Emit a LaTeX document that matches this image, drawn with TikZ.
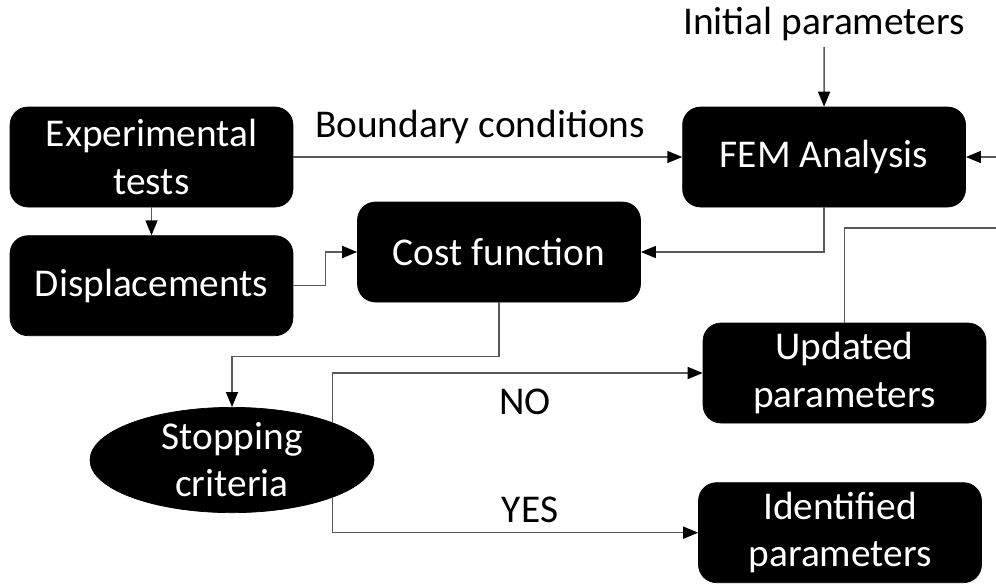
\documentclass[tikz,border=0pt]{standalone}
\usepackage{fontspec}
\setmainfont{Carlito}
\usepackage{tikz}
\usetikzlibrary{shapes.geometric,arrows.meta,positioning,calc}

\begin{document}
\begin{tikzpicture}[
        x=0.02cm, y=-0.02cm,
        node distance=0.56cm,
        box/.style={rectangle, rounded corners=0.36cm, draw=black, fill=black, text=white,
            minimum width=5.66cm,
            minimum height=2.0cm, inner sep=0pt,
            align=center, font=\fontsize{22.4}{26.8}\selectfont},
        oval/.style={ellipse, draw=black, fill=black, text=white,
            minimum width=5.68cm,
            minimum height=2.06cm, inner sep=0pt,
            align=center, font=\fontsize{22.4}{26.8}\selectfont},
        lbl/.style={font=\fontsize{22.4}{26.8}\selectfont},
        line/.style={draw=black!65, line width=0.03cm},
        arr/.style={line, -{Triangle[length=0.3cm, width=0.24cm, color=black]}}
    ]
        \useasboundingbox (0,0) rectangle (996,583);
        \node[box] (exp) at (151.5,157) {Experimental\\tests};
        \node[box, below=of exp] (disp) {Displacements};
        \node[box, right=7.78cm of exp] (fem) {FEM Analysis};
        \node[box] (cost) at (499,252) {Cost function};
        \node[box] (upd) at (844.5,373) {Updated\\parameters};
        \node[box, below=1.18cm of upd, xshift=-0.09cm] (ident) {Identified\\parameters};
        \node[oval] (stop) at (232,460) {Stopping\\criteria};
        \node[lbl] (init) at (824,24) {Initial parameters};
        \coordinate (inR) at (996,157);
        \coordinate (outR) at (996,228);
        \draw[arr] (init) -- (fem.north);
        \draw[arr] (exp.east) -- node[lbl, pos=0.48, yshift=0.6cm] {Boundary conditions} (fem.west);
        \draw[arr] (exp.south) -- (disp.north);
        \draw[arr] (disp.east) -- ++(32,0) |- (cost.west);
        \draw[arr] (fem.south) |- (cost.east);
        \draw[arr] (inR) -- (fem.east);
        \draw[line] (upd.north) |- (outR);
        \draw[arr] (cost.south) -- ++(0,54) -| (stop.north);
        \draw[arr] (stop.north east) |- node[lbl, pos=0.76, yshift=-0.58cm] {NO} (upd.west);
        \draw[arr] (stop.south east) |- node[lbl, pos=0.77, yshift=0.46cm] {YES} (ident.west);
    \end{tikzpicture}
\end{document}
